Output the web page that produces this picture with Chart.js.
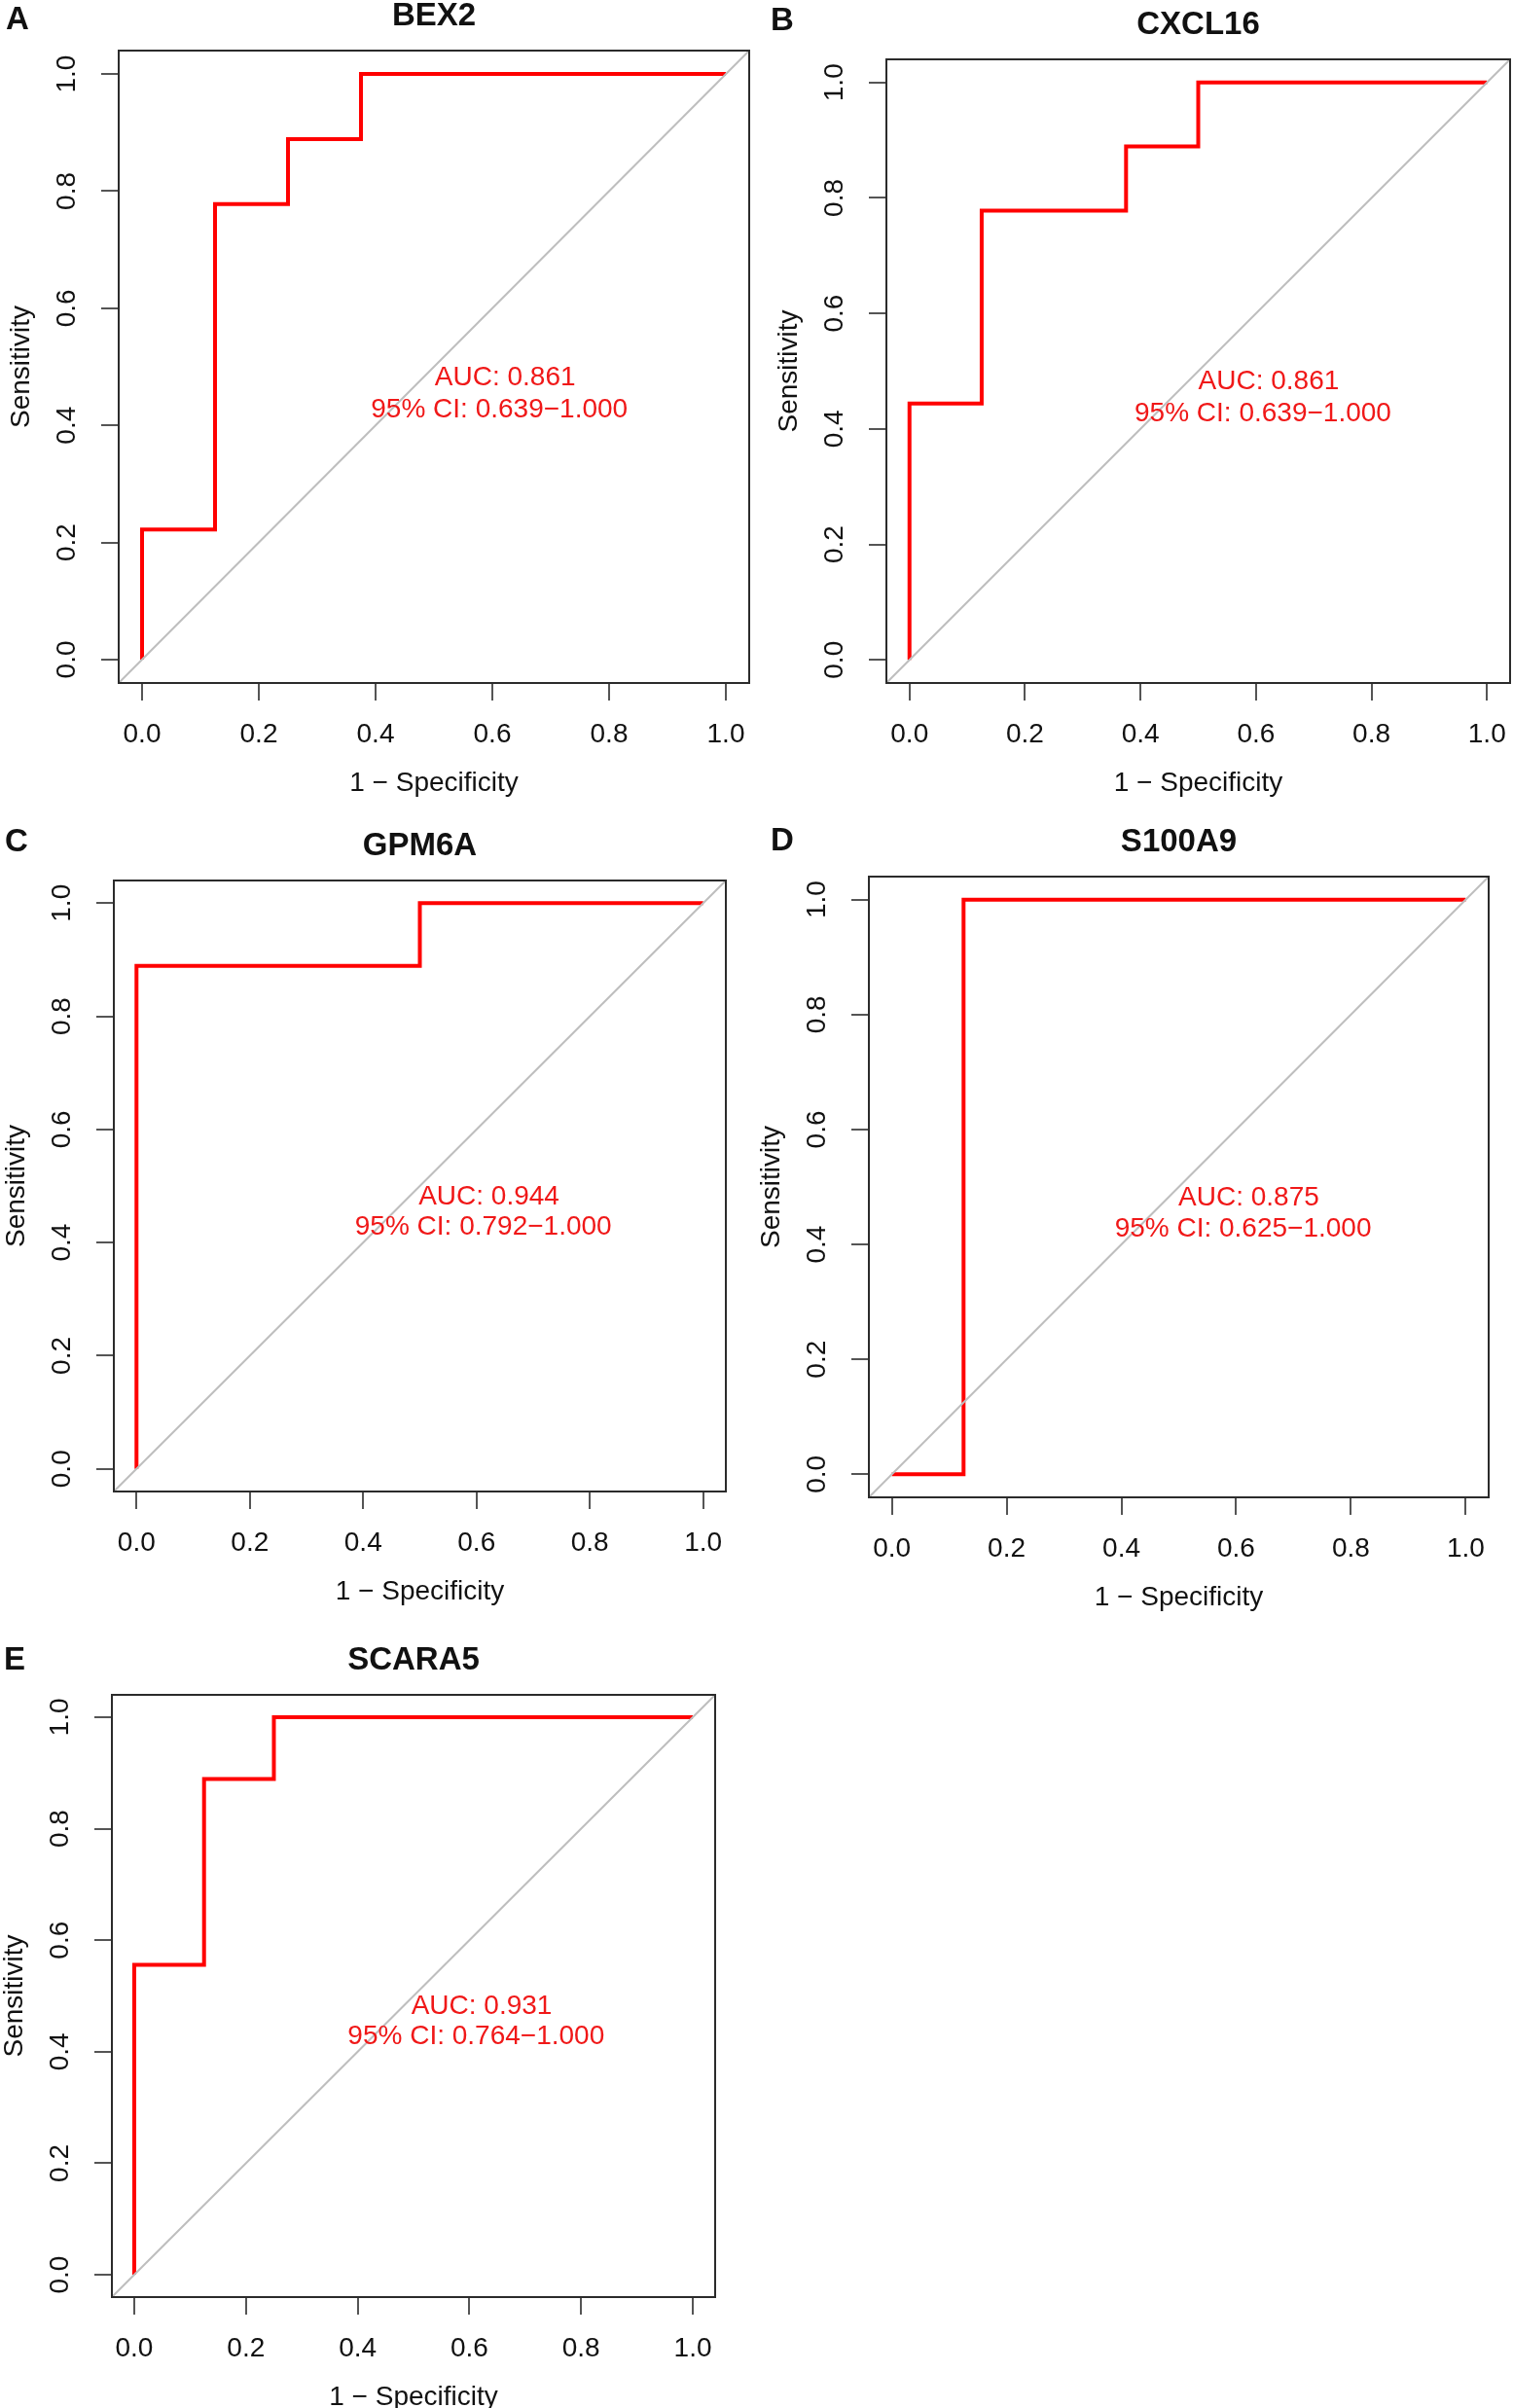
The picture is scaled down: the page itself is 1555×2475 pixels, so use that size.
<!DOCTYPE html>
<html>
<head>
<meta charset="utf-8">
<script src="https://cdn.jsdelivr.net/npm/chart.js@4.4.0/dist/chart.umd.min.js"></script>
<style>
  html, body { margin: 0; padding: 0; background: #fff; overflow: hidden; }
  body { width: 1555px; height: 2475px; position: relative; }
  canvas { position: absolute; }
</style>
</head>
<body>
<script>
const genes = ["BEX2", "CXCL16", "GPM6A", "S100A9", "SCARA5"];
const panelLetters = ["A", "B", "C", "D", "E"];

// ROC steps: 1 - specificity (x) and sensitivity (y)
const fprBEX2 = [0, 0, 0.125, 0.125, 0.25, 0.25, 0.375, 0.375, 1];
const tprBEX2 = [0, 0.222, 0.222, 0.778, 0.778, 0.889, 0.889, 1, 1];
const fprCXCL16 = [0, 0, 0.125, 0.125, 0.375, 0.375, 0.5, 0.5, 1];
const tprCXCL16 = [0, 0.444, 0.444, 0.778, 0.778, 0.889, 0.889, 1, 1];
const fprGPM6A = [0, 0, 0.5, 0.5, 1];
const tprGPM6A = [0, 0.889, 0.889, 1, 1];
const fprS100A9 = [0, 0.125, 0.125, 1];
const tprS100A9 = [0, 0, 1, 1];
const fprSCARA5 = [0, 0, 0.125, 0.125, 0.25, 0.25, 1];
const tprSCARA5 = [0, 0.556, 0.556, 0.889, 0.889, 1, 1];

const aucValues = ["0.861", "0.861", "0.944", "0.875", "0.931"];
const ciLower = ["0.639", "0.639", "0.792", "0.625", "0.764"];
const ciUpper = ["1.000", "1.000", "1.000", "1.000", "1.000"];

const tickValues = [0, 0.2, 0.4, 0.6, 0.8, 1];
const tickLabels = ["0.0", "0.2", "0.4", "0.6", "0.8", "1.0"];
const chanceLine = [-0.04, 1.04];

const curves = [
  [fprBEX2, tprBEX2],
  [fprCXCL16, tprCXCL16],
  [fprGPM6A, tprGPM6A],
  [fprS100A9, tprS100A9],
  [fprSCARA5, tprSCARA5],
];

// plot box of every panel on the page
const boxes = [
  { l: 122, t: 52, r: 770, b: 702 },
  { l: 911, t: 61, r: 1552, b: 702 },
  { l: 117, t: 905, r: 746, b: 1533 },
  { l: 893, t: 901, r: 1530, b: 1539 },
  { l: 115, t: 1742, r: 735, b: 2361 },
];
const letterPos = [[18, 21], [804, 22], [17, 866], [804, 865], [15, 1707]];

const FONT = "'Liberation Sans', Arial, Helvetica, sans-serif";
const PAD_L = 125, PAD_T = 62, PAD_R = 4, PAD_B = 130;

function makePanel(i) {
  const box = boxes[i];
  const cw = box.r - box.l + PAD_L + PAD_R;
  const ch = box.b - box.t + PAD_T + PAD_B;
  const left = box.l - PAD_L;
  const top = box.t - PAD_T;

  const canvas = document.createElement("canvas");
  canvas.width = cw;
  canvas.height = ch;
  canvas.style.left = left + "px";
  canvas.style.top = top + "px";
  canvas.style.width = cw + "px";
  canvas.style.height = ch + "px";
  document.body.appendChild(canvas);

  const [fx, fy] = curves[i];

  const decor = {
    id: "decor" + i,
    afterDraw(chart) {
      const ctx = chart.ctx;
      const a = chart.chartArea;
      const xs = chart.scales.x;
      const ys = chart.scales.y;
      ctx.save();

      // box
      ctx.strokeStyle = "#2b2b2b";
      ctx.lineWidth = 2;
      ctx.strokeRect(a.left, a.top, a.right - a.left, a.bottom - a.top);

      ctx.fillStyle = "#111";
      ctx.font = "28px " + FONT;
      ctx.textAlign = "center";
      ctx.textBaseline = "middle";

      // tick labels
      tickValues.forEach((v, k) => {
        ctx.fillText(tickLabels[k], xs.getPixelForValue(v), a.bottom + 53);
        ctx.save();
        ctx.translate(a.left - 53, ys.getPixelForValue(v));
        ctx.rotate(-Math.PI / 2);
        ctx.fillText(tickLabels[k], 0, 0);
        ctx.restore();
      });

      // axis titles
      const cx = (a.left + a.right) / 2;
      const cy = (a.top + a.bottom) / 2;
      ctx.fillText("1 \u2212 Specificity", cx, a.bottom + 103);
      ctx.save();
      ctx.translate(a.left - 100, cy);
      ctx.rotate(-Math.PI / 2);
      ctx.fillText("Sensitivity", 0, 0);
      ctx.restore();

      // AUC annotation
      ctx.fillStyle = "#f01818";
      ctx.fillText("AUC: " + aucValues[i], xs.getPixelForValue(0.622), ys.getPixelForValue(0.481));
      ctx.fillText("95% CI: " + ciLower[i] + "\u2212" + ciUpper[i],
        xs.getPixelForValue(0.612), ys.getPixelForValue(0.427));

      // gene title and panel letter
      ctx.fillStyle = "#111";
      ctx.font = "bold 33px " + FONT;
      ctx.fillText(genes[i], cx, a.top - 35);
      ctx.fillText(panelLetters[i], letterPos[i][0] - left, letterPos[i][1] - top);
      ctx.restore();
    },
  };

  const axis = (fitProp) => ({
    type: "linear",
    min: -0.04,
    max: 1.04,
    afterBuildTicks: (s) => { s.ticks = tickValues.map((v) => ({ value: v })); },
    afterFit: (s) => { s[fitProp] = 20; },
    grid: { drawOnChartArea: false, drawTicks: true, tickLength: 18, color: "#555", lineWidth: 2 },
    border: { display: false },
    ticks: { display: false },
  });

  new Chart(canvas, {
    type: "scatter",
    data: {
      datasets: [
        {
          data: chanceLine.map((v) => ({ x: v, y: v })),
          showLine: true,
          borderColor: "#bebebe",
          borderWidth: 2,
          pointRadius: 0,
        },
        {
          data: fx.map((v, k) => ({ x: v, y: fy[k] })),
          showLine: true,
          borderColor: "#ff0000",
          borderWidth: 4,
          pointRadius: 0,
          borderJoinStyle: "miter",
        },
      ],
    },
    options: {
      responsive: false,
      animation: false,
      devicePixelRatio: 1,
      layout: { padding: { left: PAD_L - 20, top: PAD_T, right: PAD_R, bottom: PAD_B - 20 } },
      plugins: { legend: { display: false }, tooltip: { enabled: false } },
      scales: { x: axis("height"), y: axis("width") },
    },
    plugins: [decor],
  });
}

for (let i = 0; i < genes.length; i++) makePanel(i);
</script>
</body>
</html>
